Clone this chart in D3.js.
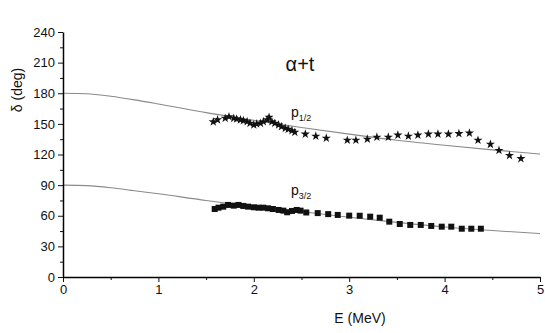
<!DOCTYPE html>
<html>
<head>
<meta charset="utf-8">
<script src="https://cdn.jsdelivr.net/npm/d3@7"></script>
<style>
body { margin: 0; background: #fff; }
text { font-family: "Liberation Sans", Arial, sans-serif; fill: #111; }
</style>
</head>
<body>
<div id="chart"></div>
<script>
// theory curves (E in MeV, phase in deg)
var curveE = [0, 0.25, 0.5, 0.75, 1, 1.5, 2, 2.5, 3, 3.5, 4, 4.5, 5];
var curveP12 = [180, 179.5, 177, 173.5, 169.5, 161, 153.5, 146.5, 140, 134, 129, 124.5, 120.5];
var curveP32 = [90, 89.5, 87.5, 84.5, 81.5, 75, 69.5, 64, 58.5, 53.5, 49, 45.5, 42.5];

// p1/2 data (stars)
var starE = [1.575, 1.62, 1.70, 1.74, 1.79, 1.82, 1.86, 1.89, 1.93, 1.96, 2.0, 2.03, 2.07, 2.10, 2.14, 2.16,
    2.19, 2.22, 2.26, 2.29, 2.33, 2.36, 2.40, 2.43, 2.54, 2.65, 2.76, 2.98, 3.07, 3.19, 3.29, 3.41, 3.51,
    3.62, 3.72, 3.83, 3.93, 4.04, 4.15, 4.26, 4.35, 4.48, 4.57, 4.68, 4.80];
var starDeg = [152, 154, 155.5, 157, 155.5, 154.8, 154, 153.2, 152.2, 150.6, 149, 150, 150.6, 152.2, 154, 156.5,
    152.2, 150.6, 149, 147.3, 145.7, 144.7, 143.4, 141.8, 140, 138, 136, 134, 134, 135, 137, 137, 139,
    138, 139, 140, 140, 140, 140.5, 141, 134, 130, 124, 119, 116];

// p3/2 data (squares)
var sqE = [1.59, 1.63, 1.68, 1.73, 1.79, 1.84, 1.89, 1.94, 2.0, 2.05, 2.10, 2.15, 2.20, 2.26, 2.31, 2.35,
    2.40, 2.45, 2.49, 2.55, 2.67, 2.78, 2.88, 3.0, 3.11, 3.22, 3.32, 3.42, 3.53, 3.64, 3.75, 3.86, 3.97,
    4.07, 4.18, 4.28, 4.38];
var sqDeg = [66.6, 67.9, 68.9, 70.6, 69.9, 70.6, 69.6, 68.9, 68.3, 67.9, 67.9, 67.3, 66.6, 65.7, 65, 63.4,
    64.7, 65.7, 65, 63.2, 62.6, 61.6, 60.8, 60.1, 60, 59.1, 58.1, 54.2, 51.9, 51, 51, 50, 49.3,
    49.3, 47.3, 47.3, 47.3];

var xTicks = [0, 1, 2, 3, 4, 5];
var yTicks = [0, 30, 60, 90, 120, 150, 180, 210, 240];

var svgWidth = 545;
var svgHeight = 333;

var svg = d3.select("#chart")
    .append("svg")
    .attr("width", svgWidth)
    .attr("height", svgHeight);

var x = d3.scaleLinear().domain([0, 5]).range([63, 540]);
var y = d3.scaleLinear().domain([0, 240]).range([277, 32]);

// theory lines
var line = d3.line()
    .x(d => x(d[0]))
    .y(d => y(d[1]))
    .curve(d3.curveMonotoneX);

[curveP12, curveP32].forEach(function (vals) {
    svg.append("path")
        .datum(curveE.map((e, i) => [e, vals[i]]))
        .attr("d", line)
        .attr("fill", "none")
        .attr("stroke", "#8a8a8a")
        .attr("stroke-width", 1.1);
});

// axes - minor ticks first
svg.append("g")
    .attr("transform", "translate(0,277)")
    .call(d3.axisBottom(x).tickValues(d3.range(0.5, 5, 1)).tickSize(3).tickFormat(""))
    .call(g => g.select(".domain").remove());

svg.append("g")
    .attr("transform", "translate(63,0)")
    .call(d3.axisLeft(y).tickValues(d3.range(15, 240, 30)).tickSize(3).tickFormat(""))
    .call(g => g.select(".domain").remove());

var xAxis = svg.append("g")
    .attr("transform", "translate(0,277)")
    .call(d3.axisBottom(x).tickValues(xTicks).tickSize(5).tickSizeOuter(0).tickPadding(3).tickFormat(d3.format("d")));

var yAxis = svg.append("g")
    .attr("transform", "translate(63,0)")
    .call(d3.axisLeft(y).tickValues(yTicks).tickSize(5).tickSizeOuter(0).tickPadding(3).tickFormat(d3.format("d")));

[xAxis, yAxis].forEach(function (g) {
    g.selectAll("text")
        .style("font-family", "'Liberation Sans', Arial, sans-serif")
        .style("font-size", "13px")
        .attr("fill", "#111");
    g.select(".domain").attr("stroke-width", 1.5);
});

svg.selectAll(".tick line").attr("stroke", "#111");

// data markers
svg.selectAll(".star")
    .data(starE.map((e, i) => [e, starDeg[i]]))
    .enter()
    .append("path")
    .attr("class", "star")
    .attr("d", d3.symbol(d3.symbolStar, 26))
    .attr("transform", d => `translate(${x(d[0])},${y(d[1])})`)
    .attr("fill", "#111");

svg.selectAll(".sq")
    .data(sqE.map((e, i) => [e, sqDeg[i]]))
    .enter()
    .append("path")
    .attr("class", "sq")
    .attr("d", d3.symbol(d3.symbolSquare, 36))
    .attr("transform", d => `translate(${x(d[0])},${y(d[1])})`)
    .attr("fill", "#111");

// labels
svg.append("text")
    .attr("transform", "translate(22,90) rotate(-90)")
    .attr("text-anchor", "middle")
    .style("font-size", "14px")
    .text("δ (deg)");

svg.append("text")
    .attr("x", 360)
    .attr("y", 323)
    .attr("text-anchor", "middle")
    .style("font-size", "14px")
    .text("E (MeV)");

svg.append("text")
    .attr("x", 300)
    .attr("y", 71)
    .attr("text-anchor", "middle")
    .style("font-size", "20px")
    .text("α+t");

var p12 = svg.append("text").attr("x", 291).attr("y", 117).style("font-size", "14px");
p12.append("tspan").text("p");
p12.append("tspan").attr("dy", 4).style("font-size", "9px").text("1/2");

var p32 = svg.append("text").attr("x", 291).attr("y", 195).style("font-size", "14px");
p32.append("tspan").text("p");
p32.append("tspan").attr("dy", 4).style("font-size", "9px").text("3/2");
</script>
</body>
</html>
